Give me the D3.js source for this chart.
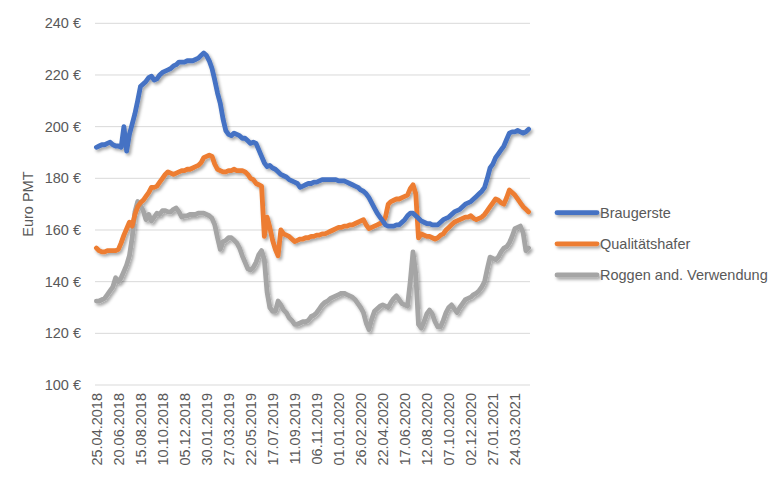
<!DOCTYPE html>
<html>
<head>
<meta charset="utf-8">
<script src="https://cdn.jsdelivr.net/npm/d3@7"></script>
<style>
  html, body { margin: 0; padding: 0; background: #fff; }
  svg { display: block; font-family: "Liberation Sans", Arial, sans-serif; }
</style>
</head>
<body>
<svg id="chart" width="782" height="479"></svg>
<script>
// ---- data ----
const startDate = "2018-04-25";      // first weekly category
const weekCount = 158;               // number of weekly categories
const tickLabels = ["25.04.2018","20.06.2018","15.08.2018","10.10.2018","05.12.2018","30.01.2019","27.03.2019","22.05.2019","17.07.2019","11.09.2019","06.11.2019","01.01.2020","26.02.2020","22.04.2020","17.06.2020","12.08.2020","07.10.2020","02.12.2020","27.01.2021","24.03.2021"];
const yTicks = [100, 120, 140, 160, 180, 200, 220, 240];
const seriesNames = ["Braugerste", "Qualitätshafer", "Roggen and. Verwendung"];

const braugerste = [
  192,192.5,193,193,193.5,194,193,192.5,192.5,192,
  200,190.5,197,201,205,210,215.5,216.5,217.5,219,
  219.5,218,218.5,220,221,221.5,222,222.5,223.5,224,
  225,225,225,225.5,225.5,225.5,226,226.5,227.5,228.5,
  227.5,225.5,222.5,218,213,209,203,198.5,197,196.5,
  197.5,197,196.5,195.5,195.5,194.5,193.5,194,193.5,191,
  188.5,186,184.5,185,184,183.5,182.5,181.5,181,180.5,
  179.5,179,178.5,178,176.5,177,177.5,178,178,178.5,
  178.5,179,179.5,179.5,179.5,179.5,179.5,179.5,179,179,
  179,178.5,178,177.5,177,176.5,175.5,175,174,172.5,
  170.5,168.5,166.5,165,163.5,162,161.5,161.5,161.5,162,
  162,163,164,165.5,166.5,166.5,165.5,164.5,163.5,163,
  162.5,162.5,162,162,162,163,164,164.5,165,166,
  167,167.5,168,169,170,170.5,171,172,173,174,
  175,176.5,180,184,185.5,188,189.5,191,192.5,195,
  197.5,198,198,198.5,198,197.5,198,199
];
const qualitaetshafer = [
  153,152,151.5,151.5,152,152,152,152,152.5,155,
  158,160.5,163,161.5,166,169,170.5,171.5,173,174.5,
  176.5,176.5,177,178.5,180,181.5,182.5,182,181.5,182,
  182.5,183,183,183.5,183.5,184,184.5,185,186,188,
  188.5,189,188.5,185.5,183.5,183,182.5,182.5,183,183,
  183.5,183,183,183,182.5,181.5,180,179.5,178,177.5,
  177,157.5,165,161,156,152.5,150,160,158.5,158,
  157.5,156.5,155.5,156,156.5,156.5,157,157,157.5,157.5,
  158,158,158.5,158.5,159,159.5,160,160.5,161,161,
  161.5,161.5,162,162,162.5,163,163.5,164,162,160.5,
  161,161.5,162,162.5,163,165,170,171,171.5,172,
  172,172.5,173,173.5,176,177.5,174,157,158.5,158,
  157.5,157.5,157,156.5,157,158,158.5,160,161,162,
  163,163.5,164,164.5,165,165,165.5,164.5,164,164.5,
  165,166,167.5,169,170.5,172,171.5,170.5,170,172.5,
  175.5,174.5,173.5,172,170.5,169,168,167
];
const roggen = [
  132.5,132.5,133,133.5,135,136.5,138,141.5,140,141.5,
  144,146.5,150,157,167,171,169.5,167.5,164,166,
  163.5,165,166.5,166,167.5,167.5,167,167,168,168.5,
  167,165,165.5,165.5,166,166,166,166.5,166.5,166.5,
  166,165.5,164.5,162,157,152.5,155.5,156,157,157,
  156,155,153,150,147.5,145,144.5,145.5,147.5,150.5,
  152,148.5,136,130,128.5,128.5,132.5,131,129,128,
  126,125,123.5,123.5,124,124.5,124.5,125,126.5,127,
  128,129.5,131,132,132.5,133.5,134,134.5,135,135.5,
  135.5,135,134.5,134,133,131.5,130,128,124,121.5,
  125.5,128.5,129.5,130.5,131,130.5,130,132,133.5,134.5,
  133,131.5,131,130.5,140,151.5,143,123.5,122,124.5,
  127.5,129,127.5,124.5,122.5,122.5,125,128,130,131,
  129.5,128,130,131.5,133,133.5,134,135,135.5,136.5,
  138,140,145,149.5,149,148.5,149.5,151.5,153,153.5,
  155,157.5,160.5,161,161.5,159,152,153
];
const seriesValues = [braugerste, qualitaetshafer, roggen];
const seriesColors = ["#4472C4", "#ED7D31", "#A5A5A5"];

// ---- chart ----
const W = 782, H = 479;
const svg = d3.select("#chart");
const plot = { left: 95, right: 530, top: 23.3, bottom: 385 };

const defs = svg.append("defs");
const filt = defs.append("filter").attr("id", "shadow")
  .attr("filterUnits", "userSpaceOnUse")
  .attr("x", 0).attr("y", 0).attr("width", W).attr("height", H);
filt.append("feDropShadow").attr("dx", 1.8).attr("dy", 2.2)
  .attr("stdDeviation", 1.4).attr("flood-color", "#000").attr("flood-opacity", 0.35);

const parse = d3.utcParse("%Y-%m-%d");
const start = parse(startDate);
const dates = d3.range(weekCount).map(i => d3.utcDay.offset(start, i * 7));
const fmt = d3.utcFormat("%d.%m.%Y");

const x = d3.scaleBand().domain(dates.map(d => +d)).range([plot.left, plot.right]);
const xc = d => x(+d) + x.bandwidth() / 2;
const y = d3.scaleLinear().domain([100, 240]).range([plot.bottom, plot.top]);

// gridlines
svg.append("g").selectAll("line").data(yTicks).join("line")
  .attr("x1", plot.left).attr("x2", plot.right)
  .attr("y1", d => y(d)).attr("y2", d => y(d))
  .attr("stroke", "#d9d9d9").attr("stroke-width", 1);

// y axis labels
const yAxis = d3.axisLeft(y).tickValues(yTicks).tickSize(0).tickPadding(0)
  .tickFormat(d => d + " €");
const gy = svg.append("g").attr("transform", `translate(${plot.left - 14},0)`).call(yAxis);
gy.select(".domain").remove();
gy.selectAll("text").attr("fill", "#595959").style("font-size", "14.5px")
  .style("font-family", "Liberation Sans, Arial, sans-serif");

// x axis labels
const tickDates = tickLabels.map(s => +d3.utcParse("%d.%m.%Y")(s));
const xAxis = d3.axisBottom(x).tickValues(tickDates).tickSize(0)
  .tickFormat(d => fmt(new Date(d)));
const gx = svg.append("g").attr("transform", `translate(0,${plot.bottom})`).call(xAxis);
gx.select(".domain").remove();
gx.selectAll("text")
  .attr("transform", "rotate(-90)")
  .attr("text-anchor", "end")
  .attr("x", -8).attr("y", 0).attr("dy", "0.36em")
  .attr("fill", "#595959").style("font-size", "14.5px")
  .style("font-family", "Liberation Sans, Arial, sans-serif");

// axis title
svg.append("text")
  .attr("transform", `translate(33,${(plot.top + plot.bottom) / 2}) rotate(-90)`)
  .attr("text-anchor", "middle")
  .attr("fill", "#595959").style("font-size", "14.5px")
  .text("Euro PMT");

// lines
const line = d3.line().x((v, i) => xc(dates[i])).y(v => y(v));
svg.append("g").attr("filter", "url(#shadow)").selectAll("path")
  .data(seriesValues.slice().reverse()).join("path")
  .attr("d", d => line(d))
  .attr("fill", "none")
  .attr("stroke", (d, i) => seriesColors[seriesValues.length - 1 - i])
  .attr("stroke-width", 4.8)
  .attr("stroke-linejoin", "round")
  .attr("stroke-linecap", "round");

// legend
const legendY = d3.scalePoint().domain(seriesNames).range([212.7, 275]);
const lg = svg.append("g").attr("filter", "url(#shadow)");
const item = lg.selectAll("g").data(seriesNames).join("g")
  .attr("transform", d => `translate(557,${legendY(d)})`);
item.append("line").attr("x1", 0).attr("x2", 40)
  .attr("stroke", (d, i) => seriesColors[i]).attr("stroke-width", 4.8)
  .attr("stroke-linecap", "round");
svg.append("g").selectAll("text").data(seriesNames).join("text")
  .attr("x", 600).attr("y", d => legendY(d)).attr("dy", "0.35em")
  .attr("fill", "#595959").style("font-size", "14.5px")
  .text(d => d);
</script>
</body>
</html>
